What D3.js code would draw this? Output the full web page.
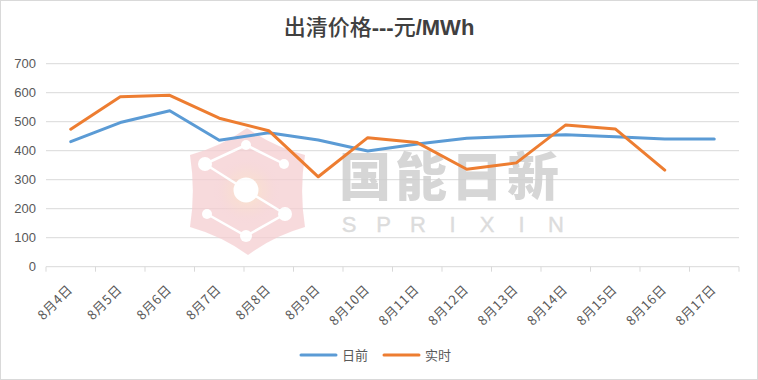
<!DOCTYPE html>
<html><head><meta charset="utf-8">
<script src="https://cdn.jsdelivr.net/npm/d3@7"></script>
<style>body{margin:0;background:#fff;}svg{display:block;}</style>
</head><body>
<svg id="chart" width="758" height="380"></svg>
<script>
const categories = ["8月4日","8月5日","8月6日","8月7日","8月8日","8月9日","8月10日","8月11日","8月12日","8月13日","8月14日","8月15日","8月16日","8月17日"];
const dayAhead = [431, 497, 538, 436, 462, 437, 399, 423, 443, 450, 455, 448, 440, 440];
const realTime = [474, 586, 591, 512, 469, 310, 445, 428, 336, 358, 489, 475, 333, null];
const yTicks = [0, 100, 200, 300, 400, 500, 600, 700];
const seriesNames = ["日前", "实时"];
const colors = ["#5B9BD5", "#ED7D31"];
const titleParts = [["出清价格", false], ["---", true], ["元", false], ["/MWh", true]];

const svg = d3.select("#chart");
const font = "'Noto Sans CJK SC', 'Microsoft YaHei', sans-serif";
const latin = "'Liberation Sans', Arial, sans-serif";
const m = {left: 46, right: 19, top: 63.7, bottom: 113.3};
const W = 758, H = 380;

svg.append("rect").attr("x",0.5).attr("y",0.5).attr("width",W-1).attr("height",H-1)
  .attr("fill","#fff").attr("stroke","#d9d9d9");

const x = d3.scaleBand().domain(categories).range([m.left, W - m.right]);
const y = d3.scaleLinear().domain([0, 700]).range([H - m.bottom, m.top]);

// gridlines
svg.append("g").selectAll("line").data(yTicks.filter(d => d > 0)).join("line")
  .attr("x1", m.left).attr("x2", W - m.right)
  .attr("y1", d => y(d)).attr("y2", d => y(d))
  .attr("stroke", "#d9d9d9").attr("stroke-width", 1);

// watermark
const wm = svg.append("g").attr("opacity", 0.85);
const cx = 247, cy = 191;
const hex = [[0,-63],[58,-36],[58,36],[1,64],[-57,36],[-57,-36]];
let p = "M" + (cx+hex[0][0]) + "," + (cy+hex[0][1]);
for (let i = 1; i <= 6; i++) {
  const a = hex[i-1], b = hex[i % 6];
  const mx = (a[0]+b[0])/2, my = (a[1]+b[1])/2;
  p += " Q" + (cx+mx*0.9) + "," + (cy+my*0.9) + " " + (cx+b[0]) + "," + (cy+b[1]);
}
const defs = svg.append("defs");
const rg = defs.append("radialGradient").attr("id","glow");
rg.append("stop").attr("offset","0%").attr("stop-color","#fbe6c0");
rg.append("stop").attr("offset","100%").attr("stop-color","#f4cdd0").attr("stop-opacity",0);
wm.append("path").attr("d", p + "Z").attr("fill", "#f4cdd0").attr("opacity",0.85);
wm.append("circle").attr("cx",cx).attr("cy",cy).attr("r",34).attr("fill","url(#glow)");
const nodes = [[284,164,5],[246,145,5],[205,164,7],[246,190,12.5],[285,214,7],[246,236,6],[207,214,5]];
wm.append("path").attr("d", d3.line()(nodes.map(n => [n[0], n[1]])))
  .attr("fill","none").attr("stroke","#fff").attr("stroke-width",2.5);
wm.selectAll("circle.n").data(nodes).join("circle").attr("class","n")
  .attr("cx", d => d[0]).attr("cy", d => d[1]).attr("r", d => d[2]).attr("fill","#fff");
wm.append("text").attr("x", 451).attr("y", 196).attr("text-anchor","middle")
  .attr("font-family", font).attr("font-weight", 900).attr("font-size", 52)
  .attr("fill", "#cfcfcf").attr("letter-spacing", 4).text("国能日新");
const letters = "SPRIXIN".split("");
wm.selectAll("text.s").data(letters).join("text").attr("class","s")
  .attr("x", (d,i) => 349 + i*34.5).attr("y", 232).attr("text-anchor","middle")
  .attr("font-family", latin).attr("font-size", 22)
  .attr("fill", "#d6d6d6").attr("stroke", "#d6d6d6").attr("stroke-width", 0.4).text(d => d);

// x axis
const xAxisY = y(0);
svg.append("line").attr("x1", m.left).attr("x2", W - m.right).attr("y1", xAxisY).attr("y2", xAxisY)
  .attr("stroke", "#d9d9d9");
const bounds = categories.map(c => x(c)).concat([x.range()[1]]);
svg.append("g").selectAll("line").data(bounds).join("line")
  .attr("x1", d => d).attr("x2", d => d).attr("y1", xAxisY).attr("y2", xAxisY + 5)
  .attr("stroke", "#d9d9d9");
svg.append("g").selectAll("text").data(categories).join("text")
  .attr("transform", d => `translate(${x(d) + x.bandwidth()/2 - 0.5},${xAxisY + 20.5}) rotate(-45)`)
  .attr("text-anchor", "end").attr("dy", "0.35em").attr("letter-spacing", 0.6)
  .attr("font-family", font).attr("font-size", 13).attr("fill", "#595959").text(d => d);

// y labels
svg.append("g").selectAll("text").data(yTicks).join("text")
  .attr("x", 36).attr("y", d => y(d)).attr("dy", "0.35em").attr("text-anchor", "end")
  .attr("font-family", latin).attr("font-size", 13)
  .attr("fill", "#595959").text(d => d);

// lines
const line = d3.line().defined(d => d[1] != null)
  .x(d => x(d[0]) + x.bandwidth()/2).y(d => y(d[1]));
[dayAhead, realTime].forEach((s, i) => {
  svg.append("path").datum(categories.map((c, j) => [c, s[j]]))
    .attr("d", line).attr("fill", "none").attr("stroke", colors[i])
    .attr("stroke-width", 3).attr("stroke-linejoin", "round").attr("stroke-linecap", "round");
});

// title
const title = svg.append("text").attr("x", 379).attr("y", 35).attr("text-anchor", "middle")
  .attr("font-size", 22).attr("fill", "#404040");
titleParts.forEach(([t, b]) => {
  title.append("tspan").attr("font-family", b ? latin : font)
    .attr("font-weight", b ? "bold" : 500).text(t);
});

// legend
const leg = [{x: 301, tx: 342}, {x: 384, tx: 425}];
seriesNames.forEach((n, i) => {
  svg.append("line").attr("x1", leg[i].x).attr("x2", leg[i].x + 35).attr("y1", 355).attr("y2", 355)
    .attr("stroke", colors[i]).attr("stroke-width", 3).attr("stroke-linecap", "round");
  svg.append("text").attr("x", leg[i].tx).attr("y", 355).attr("dy", "0.35em")
    .attr("font-family", font).attr("font-size", 13).attr("fill", "#595959").text(n);
});
</script>
</body></html>
